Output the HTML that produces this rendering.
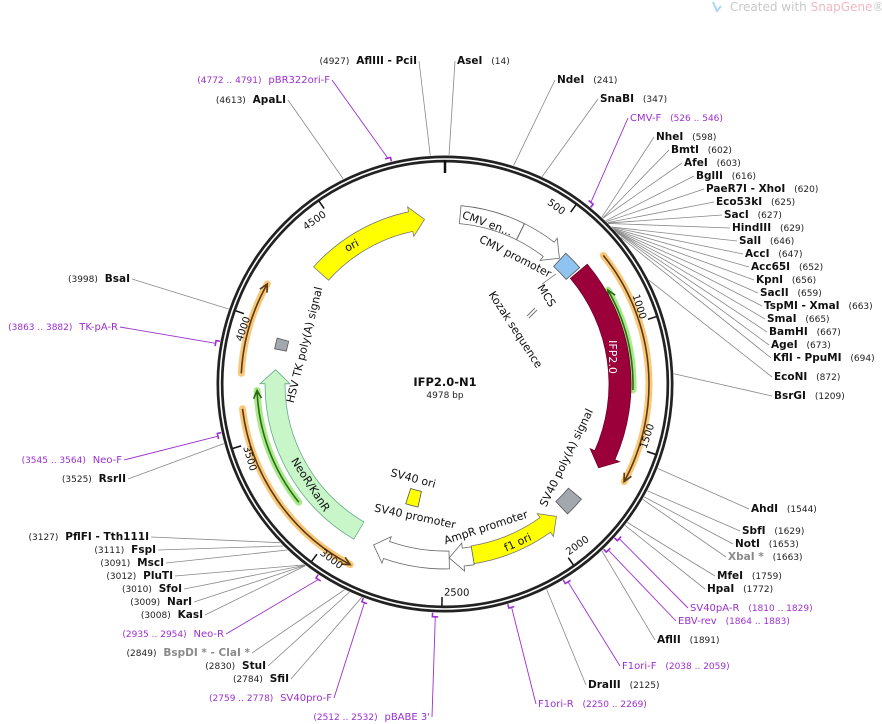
<!DOCTYPE html>
<html><head><meta charset="utf-8">
<style>
html,body{margin:0;padding:0;background:#fff;}
svg{display:block;font-family:"DejaVu Sans","Liberation Sans",sans-serif;}
.nm{font-weight:bold;font-size:10.5px;fill:#111;}
.ps{font-size:9px;fill:#222;}
.pr{font-size:10px;fill:#9b30d0;}
.prn{font-size:9px;fill:#9b30d0;}
.gr{font-weight:bold;font-size:10.5px;fill:#8a8a8a;}
.tk{font-size:10px;fill:#111;}
</style></head>
<body>
<svg id="map" width="882" height="724" viewBox="0 0 882 724">
<text x="730" y="11" font-size="12" fill="#c8c8c8">Created with <tspan fill="#f0b8c0">SnapGene</tspan>®</text>
<path d="M713 2 L717 11 L721 6" stroke="#a8d8f0" stroke-width="2" fill="none"/>
<g id="g-primers"></g>
<g id="g-feat"></g>
<g id="g-lines"></g>
<circle cx="445" cy="384" r="225" fill="none" stroke="#222" stroke-width="7"/>
<circle cx="445" cy="384" r="225" fill="none" stroke="#fff" stroke-width="1.6"/>
<g id="g-ticks"></g>
<g id="g-labels"></g>
<text x="445" y="386" text-anchor="middle" font-weight="bold" font-size="11.5" fill="#111">IFP2.0-N1</text>
<text x="445" y="398" text-anchor="middle" font-size="9" fill="#222">4978 bp</text>
</svg>
<script>
const TOTAL = 4978;
const featNames = ["CMV enhancer","CMV promoter","MCS","IFP2.0","SV40 poly(A) signal","f1 ori","AmpR promoter","SV40 promoter","SV40 ori","NeoR/KanR","HSV TK poly(A) signal","ori"];
const featStart = [71,365,591,690,1800,1935,2362,2470,2660,2910,3895,4310];
const featEnd =   [364,585,680,1640,1890,2362,2470,2820,2740,3800,3945,4880];
const featDir =   [0,1,0,1,0,-1,1,1,0,1,0,1];
const primerArcStart = [704,830,2872,3195,3775];
const primerArcEnd =   [1640,1270,3637,3706,4140];
const primerArcDir =   [1,-1,-1,1,1];
const primerArcKind =  ["orange","green","orange","green","orange"];
const enzNames = ["AseI","NdeI","SnaBI","NheI","BmtI","AfeI","BglII","PaeR7I - XhoI","Eco53kI","SacI","HindIII","SalI","AccI","Acc65I","KpnI","SacII","TspMI - XmaI","SmaI","BamHI","AgeI","KflI - PpuMI","EcoNI","BsrGI","AhdI","SbfI","NotI","XbaI *","MfeI","HpaI","AflII","DraIII","AflIII - PciI","ApaLI","BsaI","RsrII","PflFI - Tth111I","FspI","MscI","PluTI","SfoI","NarI","KasI","BspDI * - ClaI *","StuI","SfiI"];
const enzPos = [14,241,347,598,602,603,616,620,625,627,629,646,647,652,656,659,663,665,667,673,694,872,1209,1544,1629,1653,1663,1759,1772,1891,2125,4927,4613,3998,3525,3127,3111,3091,3012,3010,3009,3008,2849,2830,2784];
const primerNames = ["CMV-F","SV40pA-R","EBV-rev","F1ori-F","F1ori-R","pBR322ori-F","TK-pA-R","Neo-F","Neo-R","SV40pro-F","pBABE 3'"];
const primerStart = [526,1810,1864,2038,2250,4772,3863,3545,2935,2759,2512];
const primerEnd =   [546,1829,1883,2059,2269,4791,3882,3564,2954,2778,2532];
const tickValues = [500,1000,1500,2000,2500,3000,3500,4000,4500];

const enzLayout = [[457,64,'r'],[557,83,'r'],[600,102,'r'],[656,140,'r'],[671,153,'r'],[684,166,'r'],[696,179,'r'],[706,192,'r'],[716,205,'r'],[724,218,'r'],[732,231,'r'],[739,244,'r'],[745,257,'r'],[751,270,'r'],[756,283,'r'],[760,296,'r'],[764,309,'r'],[767,322,'r'],[769,335,'r'],[771,348,'r'],[773,361,'r'],[774,380,'r'],[774,399,'r'],[751,512,'r'],[742,534,'r'],[735,547,'r'],[728,560,'r'],[717,579,'r'],[707,592,'r'],[657,643,'r'],[588,688,'r'],[417,64,'l'],[286,103,'l'],[130,282,'l'],[126,482,'l'],[149,540,'l'],[156,553,'l'],[164,566,'l'],[173,579,'l'],[182,592,'l'],[192,605,'l'],[203,618,'l'],[250,656,'l'],[266,669,'l'],[289,682,'l']];
const primerLayout = [[630,121,'r'],[690,611,'r'],[678,624,'r'],[622,669,'r'],[538,707,'r'],[330,83,'l'],[118,330,'l'],[122,463,'l'],[224,637,'l'],[332,701,'l'],[430,720,'l']];

const CX=445, CY=384, NS="http://www.w3.org/2000/svg";
function ang(bp){return bp/TOTAL*2*Math.PI;}
function pt(r,a){return [CX+r*Math.sin(a), CY-r*Math.cos(a)];}
function f(p){return p[0].toFixed(1)+' '+p[1].toFixed(1);}
function mk(tag,attrs,parent){const e=document.createElementNS(NS,tag);for(const k in attrs)e.setAttribute(k,attrs[k]);parent.appendChild(e);return e;}
function arcD(r,a0,a1){const large=(a1-a0)>Math.PI?1:0;return 'A'+r+' '+r+' 0 '+large+' 1 '+f(pt(r,a1));}
function arcDr(r,a0,a1){const large=(a0-a1)>Math.PI?1:0;return 'A'+r+' '+r+' 0 '+large+' 0 '+f(pt(r,a1));}

const featStyle = {"CMV enhancer":["#fff","#666",170,18],"CMV promoter":["#fff","#666",170,18],"MCS":["#90c4f0","#555",169,18],"IFP2.0":["#9c003a","#700028",175,22],"SV40 poly(A) signal":["#a3a7ae","#555",170,17],"f1 ori":["#ffff00","#777",173,18],"AmpR promoter":["#fff","#666",174,18],"SV40 promoter":["#fff","#666",176,18],"SV40 ori":["#ffff00","#555",118,16],"NeoR/KanR":["#c8f6c8","#6a8",170,20],"HSV TK poly(A) signal":["#a3a7ae","#555",168,12],"ori":["#ffff00","#777",166,20]};
const gF=document.getElementById('g-feat');
for(let i=0;i<featNames.length;i++){
  const st=featStyle[featNames[i]]; const r=st[2], w=st[3];
  const a0=ang(featStart[i]), a1=ang(featEnd[i]);
  const ro=r+w/2, ri=r-w/2, hl=14/r, hx=5;
  let d;
  if(featDir[i]===1){const ah=a1-hl;
    d='M'+f(pt(ro,a0))+arcD(ro,a0,ah)+'L'+f(pt(ro+hx,ah))+'L'+f(pt(r,a1))+'L'+f(pt(ri-hx,ah))+'L'+f(pt(ri,ah))+arcDr(ri,ah,a0)+'Z';}
  else if(featDir[i]===-1){const ah=a0+hl;
    d='M'+f(pt(ro,a1))+arcDr(ro,a1,ah)+'L'+f(pt(ro+hx,ah))+'L'+f(pt(r,a0))+'L'+f(pt(ri-hx,ah))+'L'+f(pt(ri,ah))+arcD(ri,ah,a1)+'Z';}
  else {d='M'+f(pt(ro,a0))+arcD(ro,a0,a1)+'L'+f(pt(ri,a1))+arcDr(ri,a1,a0)+'Z';}
  const p=mk('path',{d:d,fill:st[0],stroke:st[1],'stroke-width':0.8},gF);
  
  
}
const gP=document.getElementById('g-primers');
for(let i=0;i<primerArcStart.length;i++){
  const orange=primerArcKind[i]==="orange"; const r=orange?204:188;
  const a0=ang(primerArcStart[i]), a1=ang(primerArcEnd[i]);
  const d='M'+f(pt(r,a0))+arcD(r,a0,a1);
  const g=mk('g',{},gP);
  
  
  mk('path',{d:d,fill:'none',stroke:orange?'#f9c77a':'#a9e98c','stroke-width':7,'stroke-linecap':'round'},g);
  mk('path',{d:d,fill:'none',stroke:orange?'#5a3a12':'#2a6a12','stroke-width':1.6},g);
  const tip=primerArcDir[i]===1?a1:a0, back=primerArcDir[i]===1?a1-8/r:a0+8/r;
  mk('path',{d:'M'+f(pt(r+4,back))+'L'+f(pt(r,tip))+'L'+f(pt(r-4,back)),fill:'none',stroke:orange?'#5a3a12':'#2a6a12','stroke-width':1.6},g);
}
const gT=document.getElementById('g-ticks');
mk('line',{x1:445,y1:160,x2:445,y2:173,stroke:'#111','stroke-width':2.5},gT);
for(const v of tickValues){
  const a=ang(v);const p1=pt(222,a),p2=pt(213,a);
  const l=mk('line',{x1:p1[0],y1:p1[1],x2:p2[0],y2:p2[1],stroke:'#111','stroke-width':1.5},gT);
  
  
  const deg=a*180/Math.PI; let rot=deg; if(deg>90&&deg<=270)rot=deg-180; else if(deg>270)rot=deg-360;
  const c=pt(209,a-0.07);
  const t=mk('text',{x:c[0],y:c[1],'text-anchor':'middle','dominant-baseline':'middle',class:'tk',transform:'rotate('+rot.toFixed(1)+' '+c[0].toFixed(1)+' '+c[1].toFixed(1)+')'},gT);
  t.textContent=v;
  
  
}
const gL=document.getElementById('g-labels'), gLn=document.getElementById('g-lines');
function label(name,num,lay,isPrimer,grey){
  const [x,y,side]=lay;
  const t=mk('text',{x:x,y:y,'text-anchor':side==='r'?'start':'end'},gL);
  const nCls=isPrimer?'pr':(grey?'gr':'nm'), pCls=isPrimer?'prn':'ps';
  const a=document.createElementNS(NS,'tspan'),b=document.createElementNS(NS,'tspan');
  if(side==='r'){a.textContent=name;a.setAttribute('class',nCls);b.textContent='  '+num;b.setAttribute('class',pCls);b.setAttribute('dx','6');}
  else{a.textContent=num+'  ';a.setAttribute('class',pCls);b.textContent=name;b.setAttribute('class',nCls);b.setAttribute('dx','4');}
  t.appendChild(a);t.appendChild(b);t.setAttribute('xml:space','preserve');
  return t;
}
for(let i=0;i<enzNames.length;i++){
  const grey=enzNames[i].indexOf('*')>=0;
  const t=label(enzNames[i],'('+enzPos[i]+')',enzLayout[i],false,grey);
  
  
  const [x,y,side]=enzLayout[i]; const p=pt(229,ang(enzPos[i]));
  const ln=mk('line',{x1:side==='r'?x-2:x+2,y1:y-3,x2:p[0],y2:p[1],stroke:'#888','stroke-width':0.8},gLn);
  
  
}
for(let i=0;i<primerNames.length;i++){
  const t=label(primerNames[i],'('+primerStart[i]+' .. '+primerEnd[i]+')',primerLayout[i],true,false);
  
  
  const am=ang((primerStart[i]+primerEnd[i])/2);const p=pt(233,am);
  const [x,y,side]=primerLayout[i];
  const ln=mk('line',{x1:side==='r'?x-2:x+2,y1:y-3,x2:p[0],y2:p[1],stroke:'#9b30d0','stroke-width':0.9},gLn);
  
  
  const b1=pt(233,ang(primerStart[i])),b2=pt(233,ang(primerEnd[i])),b3=pt(229,ang(primerEnd[i]));
  const br=mk('path',{d:'M'+f(b1)+'L'+f(b2)+'L'+f(b3),fill:'none',stroke:'#9b30d0','stroke-width':1.6},gLn);
  
  
}
const featText=[["CMV en...",487,224,20,'#111',11],["CMV promoter",515,257,27,'#111',11],["MCS",546,296,58,'#111',11],["Kozak sequence",515,330,57,'#111',11],["IFP2.0",612,357,90,'#fff',11],["SV40 poly(A) signal",567,458,-64,'#111',11],["f1 ori",518,543,-25,'#111',11],["AmpR promoter",486,528,-18,'#111',11],["SV40 promoter",415,517,12,'#111',11],["SV40 ori",413,479,15,'#111',11],["NeoR/KanR",310,485,57,'#111',11],["HSV TK poly(A) signal",305,345,-76,'#111',11],["ori",352,246,-28,'#111',11]];
for(const ft of featText){
  const t=mk('text',{x:ft[1],y:ft[2],'text-anchor':'middle','dominant-baseline':'middle','font-size':ft[5],fill:ft[4],transform:'rotate('+ft[3]+' '+ft[1]+' '+ft[2]+')'},gL);
  t.textContent=ft[0];
  
  
}
mk('path',{d:'M527 316 L535 308 M529 318 L537 310',stroke:'#777','stroke-width':1},gL);
mk('line',{x1:542,y1:284,x2:556,y2:274,stroke:'#888','stroke-width':0.8},gL);
</script>
</body></html>
